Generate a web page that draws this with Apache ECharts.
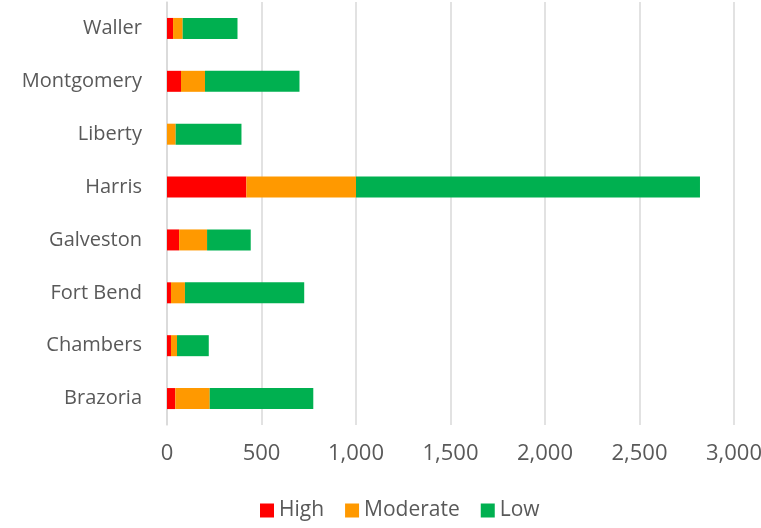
<!DOCTYPE html>
<html><head><meta charset="utf-8">
<script src="https://cdn.jsdelivr.net/npm/echarts@6/dist/echarts.min.js"></script>
<style>html,body{margin:0;padding:0;background:#fff}#c{width:761px;height:528px}</style>
</head><body><div id="c"></div>
<script>
const categories = ['Brazoria','Chambers','Fort Bend','Galveston','Harris','Liberty','Montgomery','Waller'];
const high = [44, 21, 21, 64, 420, 0, 74, 32];
const moderate = [182, 32, 74, 148, 580, 46, 127, 51];
const low = [548, 168, 631, 231, 1820, 348, 500, 290];
const xTicks = [0, 500, 1000, 1500, 2000, 2500, 3000];

const font = '"Open Sans", "Noto Sans", sans-serif';
const chart = echarts.init(document.getElementById('c'));
chart.setOption({
  animation: false,
  textStyle: {fontFamily: font},
  grid: {left: 167, right: 27, top: 2, bottom: 103, containLabel: false, outerBoundsMode: 'none'},
  legend: {
    bottom: 2, left: 255, itemWidth: 14, itemHeight: 14, itemGap: 21,
    icon: 'rect',
    textStyle: {fontSize: 21, color: '#595959', fontFamily: font},
    data: ['High','Moderate','Low']
  },
  xAxis: {
    type: 'value', min: xTicks[0], max: xTicks[xTicks.length-1], interval: 500,
    axisLine: {show: false}, axisTick: {show: false},
    splitLine: {lineStyle: {color: '#d9d9d9', width: 1.5}},
    axisLabel: {fontSize: 22, color: '#595959', margin: 18, fontFamily: font,
      formatter: v => v.toLocaleString('en-US')}
  },
  yAxis: {
    type: 'category', data: categories,
    axisLine: {show: true, lineStyle: {color: '#d9d9d9', width: 1.5}},
    axisTick: {show: false},
    axisLabel: {fontSize: 20, color: '#595959', margin: 25, fontFamily: font}
  },
  series: [
    {name: 'High', type: 'bar', stack: 't', data: high, barWidth: 21, itemStyle: {color: '#ff0000'}},
    {name: 'Moderate', type: 'bar', stack: 't', data: moderate, barWidth: 21, itemStyle: {color: '#ff9900'}},
    {name: 'Low', type: 'bar', stack: 't', data: low, barWidth: 21, itemStyle: {color: '#00b050'}}
  ]
});
</script></body></html>
